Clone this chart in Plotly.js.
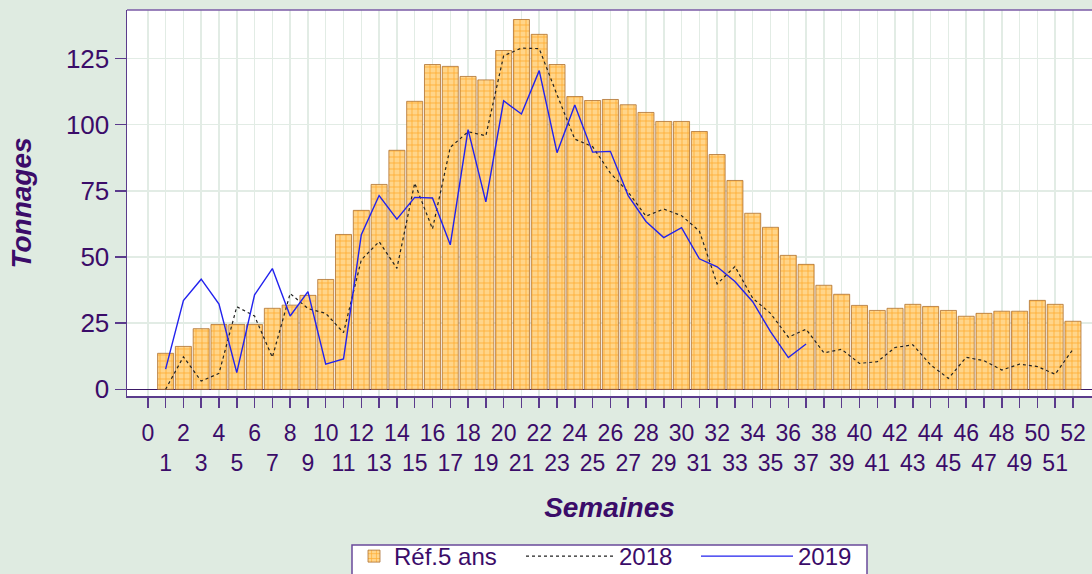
<!DOCTYPE html>
<html>
<head>
<meta charset="utf-8">
<script src="https://cdn.plot.ly/plotly-3.0.1.min.js"></script>
<style>
  html, body { margin: 0; padding: 0; background: #dfebe1; }
  #chart { width: 1092px; height: 574px; }
</style>
</head>
<body>
<div id="chart"></div>
<script>
// Week numbers
const weeks = [1,2,3,4,5,6,7,8,9,10,11,12,13,14,15,16,17,18,19,20,21,22,23,24,25,26,
               27,28,29,30,31,32,33,34,35,36,37,38,39,40,41,42,43,44,45,46,47,48,49,50,51,52];
// Reference over 5 years (bars)
const ref5 = [13.6,16.2,22.9,24.5,24.5,24.5,30.6,31.8,35.5,41.5,
              58.5,67.6,77.4,90.3,108.8,122.7,122.0,118.2,116.9,128.0,
              139.7,134.1,122.7,110.6,109.1,109.5,107.5,104.6,101.2,101.2,
              97.4,88.7,78.9,66.5,61.2,50.6,47.2,39.3,35.9,31.7,
              29.8,30.6,32.1,31.3,29.8,27.6,28.7,29.5,29.5,33.6,
              32.1,25.7];
// 2018 (dotted line)
const y2018 = [0,12.3,3.1,6.0,31.2,27.7,12.1,36.2,30.5,28.7,
               21.4,48.9,55.8,45.7,77.9,60.6,91.4,97.3,95.8,126.0,
               128.9,128.7,111.3,94.5,91.7,81.7,74.5,65.4,68.1,65.6,
               59.8,39.8,46.4,34.4,28.7,19.7,22.7,13.8,15.1,9.8,
               10.4,15.8,16.8,9.2,4.1,12.1,10.8,7.3,9.5,8.6,
               5.7,15.1];
// 2019 (blue line), weeks 1..37
const weeks2019 = weeks.slice(0, 37);
const y2019 = [7.6,33.5,41.6,32.2,6.3,35.7,45.6,27.7,36.9,9.5,
               11.5,58.4,73.2,64.3,72.5,72.3,54.6,98.1,70.8,109.0,
               104.0,120.4,89.4,107.4,89.6,89.9,73.2,63.4,57.3,61.1,
               49.3,46.3,40.7,33.1,21.8,12.0,17.1];
// X tick labels (0..52), odd ones on a second row
const xTickVals = [0].concat(weeks);
const xTickText = xTickVals.map(v => (v % 2 === 0 ? String(v) : '<br>' + v));
const yTickVals = [0, 25, 50, 75, 100, 125];

const txt = '#3b0c69';
const axisCol = '#5b3b8c';
const gridCol = '#e2ece5';
const fontFam = '"Liberation Sans", Arial, Helvetica, sans-serif';
const W = 1092, H = 574;

const traces = [
  {
    type: 'bar', x: weeks, y: ref5, name: 'Réf.5 ans', width: 0.9, legend: 'legend',
    marker: {
      color: '#ffa726',
      line: { color: 'rgba(170,105,40,0.75)', width: 1 },
      pattern: { shape: '+', size: 6, solidity: 0.25, fgcolor: '#ffab2e', bgcolor: '#ffd58a', fillmode: 'replace' }
    }
  },
  {
    type: 'scatter', mode: 'lines', x: weeks, y: y2018, name: '2018', legend: 'legend2',
    line: { color: '#222222', width: 1.2, dash: 'dot' }
  },
  {
    type: 'scatter', mode: 'lines', x: weeks2019, y: y2019, name: '2019', legend: 'legend3',
    line: { color: '#2222ee', width: 1.4 }
  }
];

function leg(xpx, iw) {
  return {
    orientation: 'h', xref: 'container', yref: 'container',
    x: xpx / W, xanchor: 'left', y: 1 - 534 / H, yanchor: 'top',
    bgcolor: 'rgba(0,0,0,0)', borderwidth: 0,
    font: { size: 24, color: txt, family: fontFam },
    itemwidth: iw
  };
}

const layout = {
  width: W, height: H,
  margin: { l: 127, r: 0, t: 10, b: 178 },
  paper_bgcolor: '#dfebe1',
  plot_bgcolor: '#ffffff',
  font: { family: fontFam, color: txt, size: 23 },
  showlegend: true,
  xaxis: {
    range: [-1.17, 53.07],
    tickmode: 'array', tickvals: xTickVals, ticktext: xTickText,
    tickangle: 0,
    tickfont: { size: 23, color: txt },
    ticks: 'outside', ticklen: 10, tickwidth: 1.5, tickcolor: axisCol,
    ticklabelstandoff: 6,
    showgrid: true, gridcolor: gridCol, gridwidth: 1.5,
    showline: true, linecolor: axisCol, linewidth: 1.5,
    zeroline: false,
    title: { text: 'Semaines', font: { size: 28, style: 'italic', weight: 'bold', color: txt }, standoff: 22 },
    automargin: false
  },
  yaxis: {
    range: [-2.53, 143.3],
    tickmode: 'array', tickvals: yTickVals,
    tickfont: { size: 26, color: txt },
    ticks: 'outside', ticklen: 11, tickwidth: 1.5, tickcolor: axisCol,
    showgrid: true, gridcolor: gridCol, gridwidth: 1.5,
    showline: true, linecolor: axisCol, linewidth: 1.5,
    zeroline: true, zerolinecolor: '#3b1a66', zerolinewidth: 1,
    title: { text: 'Tonnages', font: { size: 28, style: 'italic', weight: 'bold', color: txt }, standoff: 26 },
    automargin: false
  },
  legend: leg(354, 30),
  legend2: leg(521, 88),
  legend3: leg(696, 92),
  shapes: [
    { type: 'line', xref: 'paper', yref: 'paper', x0: 0, x1: 1, y0: 1, y1: 1,
      line: { color: '#7a5aa6', width: 1.5 } },
    { type: 'rect', xref: 'paper', yref: 'paper', layer: 'above',
      x0: (352 - 127) / 965, x1: (867 - 127) / 965,
      y0: (396 - 545) / 386, y1: (396 - 590) / 386,
      fillcolor: '#ffffff', line: { color: '#6a4a9a', width: 1.5 } }
  ]
};

Plotly.newPlot('chart', traces, layout, { displayModeBar: false, staticPlot: true });
</script>
</body>
</html>
